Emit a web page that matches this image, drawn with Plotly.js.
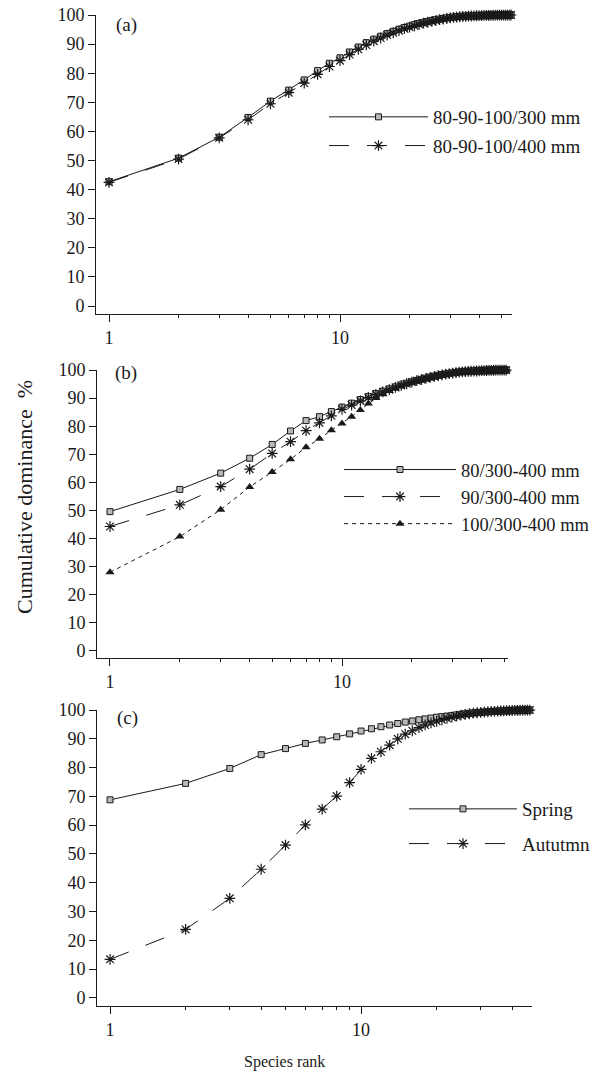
<!DOCTYPE html>
<html>
<head>
<meta charset="utf-8">
<script src="https://cdn.plot.ly/plotly-3.0.1.min.js"></script>
<style>html,body{margin:0;padding:0;background:#fff}#chart{width:594px;height:1071px}</style>
</head>
<body>
<div id="chart"></div>
<script>
// ---------- data (cumulative dominance %, by species rank 1..N) ----------
var a300 = [42.7,50.8,58.0,64.8,70.4,74.2,77.7,80.9,83.4,85.3,
            87.3,89.0,90.5,91.7,92.7,93.6,94.4,95.1,95.7,96.2,
            96.7,97.1,97.5,97.8,98.1,98.4,98.6,98.8,99.0,99.15,
            99.3,99.4,99.5,99.55,99.6,99.65,99.7,99.74,99.78,99.81,
            99.84,99.86,99.88,99.9,99.92,99.93,99.94,99.95,99.96,99.97,
            99.98,99.98,99.99,99.99,100,100];
var a400 = [42.5,50.5,57.8,64.0,69.5,73.3,76.6,79.6,82.3,84.3,
            86.4,88.2,89.7,91.0,92.1,93.1,93.9,94.6,95.3,95.8,
            96.3,96.8,97.2,97.5,97.8,98.1,98.4,98.6,98.8,99.0,
            99.15,99.3,99.4,99.5,99.55,99.6,99.65,99.7,99.74,99.78,
            99.81,99.84,99.86,99.88,99.9,99.92,99.93,99.94,99.95,99.96,
            99.97,99.98,99.99,99.99,100,100];
var b80 = [49.6,57.5,63.3,68.6,73.5,78.3,82.0,83.4,85.2,86.8,
           88.2,89.5,90.6,91.6,92.5,93.3,94.0,94.7,95.3,95.8,
           96.3,96.7,97.1,97.5,97.8,98.1,98.4,98.6,98.8,99.0,
           99.15,99.3,99.4,99.5,99.55,99.6,99.65,99.7,99.75,99.8,
           99.83,99.86,99.89,99.91,99.93,99.95,99.96,99.97,99.98,99.99,
           100,100];
var b90 = [44.3,52.0,58.5,64.7,70.3,74.5,78.4,81.2,83.7,86.0,
           87.5,89.0,90.2,91.3,92.2,93.0,93.8,94.5,95.1,95.7,
           96.2,96.6,97.0,97.4,97.7,98.0,98.3,98.5,98.7,98.9,
           99.1,99.25,99.35,99.45,99.5,99.55,99.6,99.65,99.7,99.75,
           99.8,99.83,99.86,99.89,99.91,99.93,99.95,99.96,99.97,99.98,
           99.99,100];
var b100 = [28.0,40.7,50.3,58.4,63.7,68.2,72.5,75.5,78.6,81.0,
            83.4,85.8,88.1,90.0,91.4,92.5,93.4,94.2,94.9,95.5,
            96.0,96.5,96.9,97.3,97.6,97.9,98.2,98.4,98.6,98.8,
            99.0,99.15,99.3,99.4,99.5,99.55,99.6,99.65,99.7,99.75,
            99.8,99.83,99.86,99.89,99.91,99.93,99.95,99.96,99.97,99.98,
            99.99,100];
var cSpring = [68.8,74.5,79.7,84.5,86.6,88.4,89.6,90.7,91.7,92.7,
               93.5,94.2,94.8,95.3,95.8,96.2,96.6,96.9,97.2,97.5,
               97.7,97.9,98.1,98.3,98.5,98.7,98.85,99.0,99.1,99.2,
               99.3,99.4,99.5,99.55,99.6,99.65,99.7,99.75,99.8,99.83,
               99.86,99.89,99.92,99.94,99.96,99.98,99.99,100];
var cAutumn = [13.4,23.8,34.6,44.7,53.1,60.1,65.6,70.1,74.8,79.4,
               83.2,85.5,87.8,90.0,91.6,92.8,93.9,94.8,95.5,96.1,
               96.6,97.1,97.5,97.9,98.2,98.5,98.7,98.9,99.05,99.2,
               99.3,99.4,99.5,99.55,99.6,99.65,99.7,99.75,99.8,99.83,
               99.86,99.89,99.92,99.94,99.96,99.98,99.99,100];
var seriesNames = ["80-90-100/300 mm","80-90-100/400 mm",
                   "80/300-400 mm","90/300-400 mm","100/300-400 mm",
                   "Spring","Aututmn"];
var panelLabels = ["(a)","(b)","(c)"];
var yTicks = [0,10,20,30,40,50,60,70,80,90,100];
var xMajor = [1,10];
var xMinor = [2,3,4,5,6,7,8,9,20,30,40,50];

function ranks(arr){ return arr.map(function(_,i){ return i+1; }); }

var W = 594, H = 1071;
var FONT = "Liberation Serif, Times New Roman, serif";
var INK = "#1a1a1a";

var sqMarker = {symbol:"square", size:6, color:"#b8b8b8", line:{color:INK, width:1}};
var starMarker = {symbol:"asterisk-open", size:9, color:INK, line:{color:INK, width:1.2}};
var triMarker = {symbol:"triangle-up", size:8, color:INK, line:{width:0}};
var LD = "20px,18px", SD = "4px,4px";

function tr(y, name, xa, ya, lg, marker, dash){
  return {x:ranks(y), y:y, name:name, xaxis:xa, yaxis:ya, legend:lg, legendgroup:name,
    type:"scatter", mode:"lines+markers", cliponaxis:false,
    line:{color:INK, width:1, dash:dash}, marker:marker};
}
var data = [
  tr(a300, seriesNames[0], "x", "y", "legend", sqMarker, "solid"),
  tr(a400, seriesNames[1], "x", "y", "legend", starMarker, LD),
  tr(b80, seriesNames[2], "x2", "y2", "legend2", sqMarker, "solid"),
  tr(b90, seriesNames[3], "x2", "y2", "legend2", starMarker, LD),
  tr(b100, seriesNames[4], "x2", "y2", "legend2", triMarker, SD),
  tr(cSpring, seriesNames[5], "x3", "y3", "legend3", sqMarker, "solid"),
  tr(cAutumn, seriesNames[6], "x3", "y3", "legend3", starMarker, LD)
];

function px2x(p){ return p / W; }
function px2y(p){ return (H - p) / H; }

function xax(left, right, logMin, logMax, anchor){
  return {type:"log", domain:[px2x(left), px2x(right)], range:[logMin, logMax], anchor:anchor,
    tickmode:"array", tickvals:xMajor, ticktext:xMajor.map(String),
    ticks:"outside", ticklen:7, tickcolor:INK, tickwidth:1,
    minor:{tickmode:"array", tickvals:xMinor, ticks:"outside", ticklen:3, tickcolor:INK, tickwidth:1},
    showline:true, linecolor:INK, linewidth:1, showgrid:false, zeroline:false,
    tickfont:{family:FONT, size:18, color:INK}};
}
function yax(top, bottom, yMin, anchor){
  return {domain:[px2y(bottom), px2y(top)], range:[yMin, 100], anchor:anchor,
    tickmode:"array", tickvals:yTicks, ticks:"outside", ticklen:7, tickcolor:INK, tickwidth:1,
    showline:true, linecolor:INK, linewidth:1, showgrid:false, zeroline:false,
    tickfont:{family:FONT, size:18, color:INK}};
}
// legend: left edge px, top edge px, key width, group gap, font size
function leg(left, top, iw, gap, fs){
  return {x:px2x(left), y:px2y(top), xanchor:"left", yanchor:"top",
    bgcolor:"rgba(0,0,0,0)", font:{family:FONT, size:fs, color:INK},
    tracegroupgap:gap, itemwidth:iw};
}
function lab(t, xpx, ypx){
  return {text:t, x:px2x(xpx), y:px2y(ypx), xref:"paper", yref:"paper", showarrow:false,
    xanchor:"center", yanchor:"middle", font:{family:FONT, size:19, color:INK}};
}

var layout = {
  width:W, height:H, margin:{l:0,r:0,t:0,b:0,autoexpand:false},
  paper_bgcolor:"#fff", plot_bgcolor:"#fff", showlegend:true,
  xaxis: xax(96, 512, -0.0563, 1.7446, "y"),
  yaxis: yax(15, 314, -2.75, "x"),
  xaxis2: xax(97, 508, -0.056, 1.7155, "y2"),
  yaxis2: yax(370, 658, -2.5, "x2"),
  xaxis3: xax(97, 532, -0.052, 1.681, "y3"),
  yaxis3: yax(710, 1006, -2.8, "x3"),
  legend: leg(324, 98, 99, 1, 19),
  legend2: leg(339, 451, 112, 0, 18.5),
  legend3: leg(404, 790, 108, 7, 19),
  annotations: [
    lab(panelLabels[0], 126, 25),
    lab(panelLabels[1], 126, 373),
    lab(panelLabels[2], 127, 718),
    {text:"Cumulative dominance\u00a0\u00a0%", x:px2x(24), y:px2y(497), xref:"paper", yref:"paper",
     showarrow:false, textangle:-90, xanchor:"center", yanchor:"middle",
     font:{family:FONT, size:22, color:INK}},
    {text:"Species rank", x:px2x(284), y:px2y(1062), xref:"paper", yref:"paper",
     showarrow:false, xanchor:"center", yanchor:"middle",
     font:{family:FONT, size:16, color:INK}}
  ]
};

Plotly.newPlot("chart", data, layout, {staticPlot:true, displayModeBar:false});
</script>
</body>
</html>
